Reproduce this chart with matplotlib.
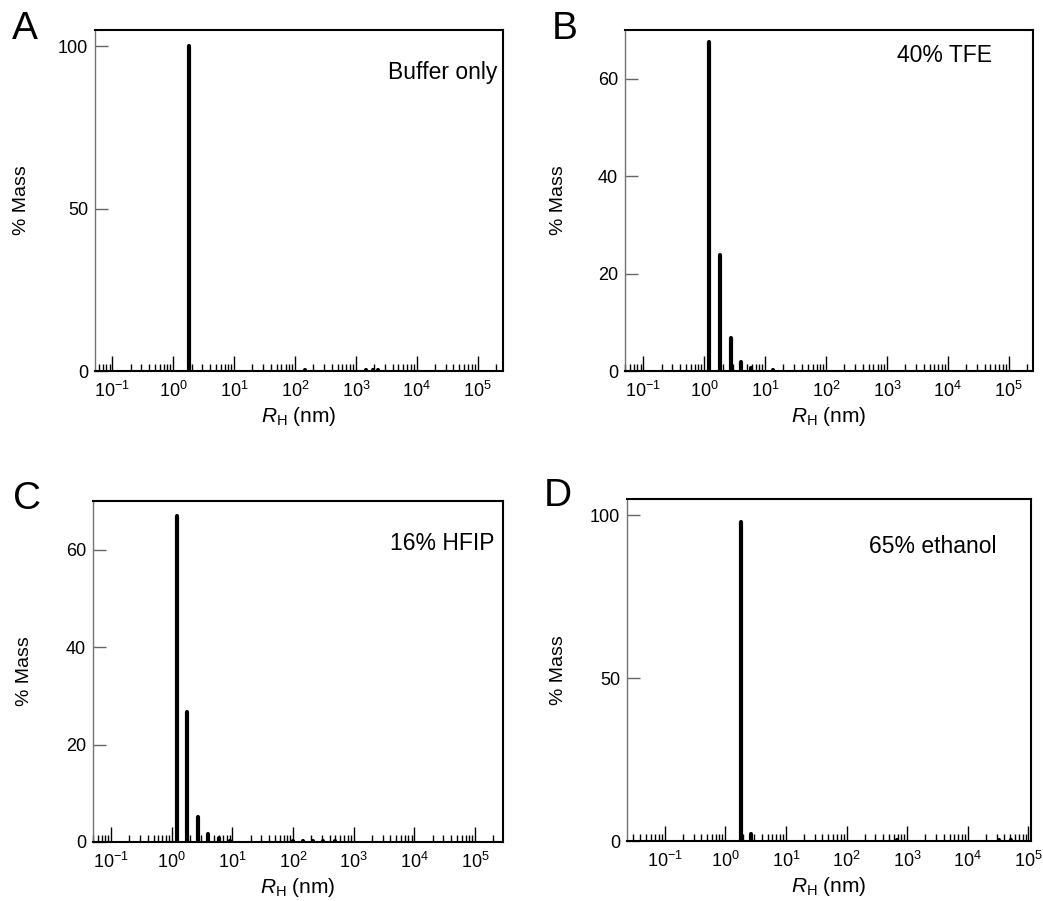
import matplotlib
matplotlib.use("Agg")
from matplotlib import pyplot as plt
from matplotlib.ticker import LogLocator, NullFormatter, FixedLocator

plt.rcParams['font.family'] = ['Liberation Sans', 'DejaVu Sans']
plt.rcParams['mathtext.fontset'] = 'custom'
plt.rcParams['mathtext.rm'] = 'Liberation Sans'
plt.rcParams['mathtext.it'] = 'Liberation Sans:italic'

# hydrodynamic radius (nm) and % mass for each condition
rh_a = [1.85, 145, 1490, 1900, 2300]
mass_a = [100, 0.3, 0.3, 0.3, 0.3]

rh_b = [1.21, 1.83, 2.7, 4.0, 5.9, 13.5]
mass_b = [67.5, 23.9, 6.7, 1.9, 0.6, 0.3]

rh_c = [1.21, 1.8, 2.7, 4.0, 6.0, 9.0, 100, 145, 215, 315, 500]
mass_c = [66.9, 26.6, 5.1, 1.6, 0.8, 0.3, 0.2, 0.2, 0.2, 0.2, 0.2]

rh_d = [1.82, 2.69, 690, 33000, 51000]
mass_d = [97.9, 2.2, 0.3, 0.3, 0.3]

letters = ['A', 'B', 'C', 'D']
conditions = ['Buffer only', '40% TFE', '16% HFIP', '65% ethanol']
yticks = [[0, 50, 100], [0, 20, 40, 60], [0, 20, 40, 60], [0, 50, 100]]
xticks = [0.1, 1, 10, 100, 1e3, 1e4, 1e5]
ylims = [105, 70, 70, 105]
xlims = [(0.052, 2.6e5), (0.05, 2.5e5), (0.05, 2.9e5), (0.024, 1.1e5)]

W, H = 1043, 901
# axes boxes in pixels: left, right, top, bottom
boxes = [(95, 503, 30, 371), (625, 1033, 30, 371),
         (93, 503, 501, 842), (627, 1031, 499, 841)]
ylab_x = [-0.16, -0.142, -0.146, -0.148]
text_pos = [(0.985, 0.875), (0.90, 0.925), (0.98, 0.875), (0.915, 0.86)]
letter_pos = [(25, 29), (565, 29), (27, 499), (558, 496)]

fig = plt.figure(figsize=(W / 100, H / 100), dpi=100)
data = [(rh_a, mass_a), (rh_b, mass_b), (rh_c, mass_c), (rh_d, mass_d)]

for i, (rh, mass) in enumerate(data):
    l, r, t, b = boxes[i]
    ax = fig.add_axes([l / W, 1 - b / H, (r - l) / W, (b - t) / H])
    ax.vlines(rh, 0, mass, colors='black', linewidth=3, capstyle='round')
    ax.set_xscale('log')
    ax.set_xlim(*xlims[i])
    ax.set_ylim(0, ylims[i])
    ax.set_yticks(yticks[i])
    ax.xaxis.set_major_locator(FixedLocator(xticks))
    ax.xaxis.set_minor_locator(LogLocator(base=10, subs=range(2, 10), numticks=20))
    ax.xaxis.set_minor_formatter(NullFormatter())
    ax.tick_params(axis='x', which='major', direction='in', length=11, width=1,
                   labelsize=13, pad=7, top=False)
    ax.tick_params(axis='x', which='minor', direction='in', length=5, width=1, top=False)
    ax.tick_params(axis='y', which='both', direction='in', length=9, width=1,
                   color='0.4', labelsize=13, pad=5, right=False)
    for s in ['top', 'right', 'bottom']:
        ax.spines[s].set_linewidth(1.5)
        ax.spines[s].set_color('black')
    ax.spines['left'].set_linewidth(1)
    ax.spines['left'].set_color('0.45')
    ax.set_ylabel('% Mass', fontsize=14)
    ax.yaxis.set_label_coords(ylab_x[i], 0.5)
    ax.set_xlabel(r'$R_\mathrm{H}$ (nm)', fontsize=15, labelpad=3)
    ax.text(text_pos[i][0], text_pos[i][1], conditions[i], transform=ax.transAxes,
            ha='right', va='center', fontsize=16.5)
    fig.text(letter_pos[i][0] / W, 1 - letter_pos[i][1] / H, letters[i],
             fontsize=28, ha='center', va='center')

fig.savefig('out.png', dpi=100)
